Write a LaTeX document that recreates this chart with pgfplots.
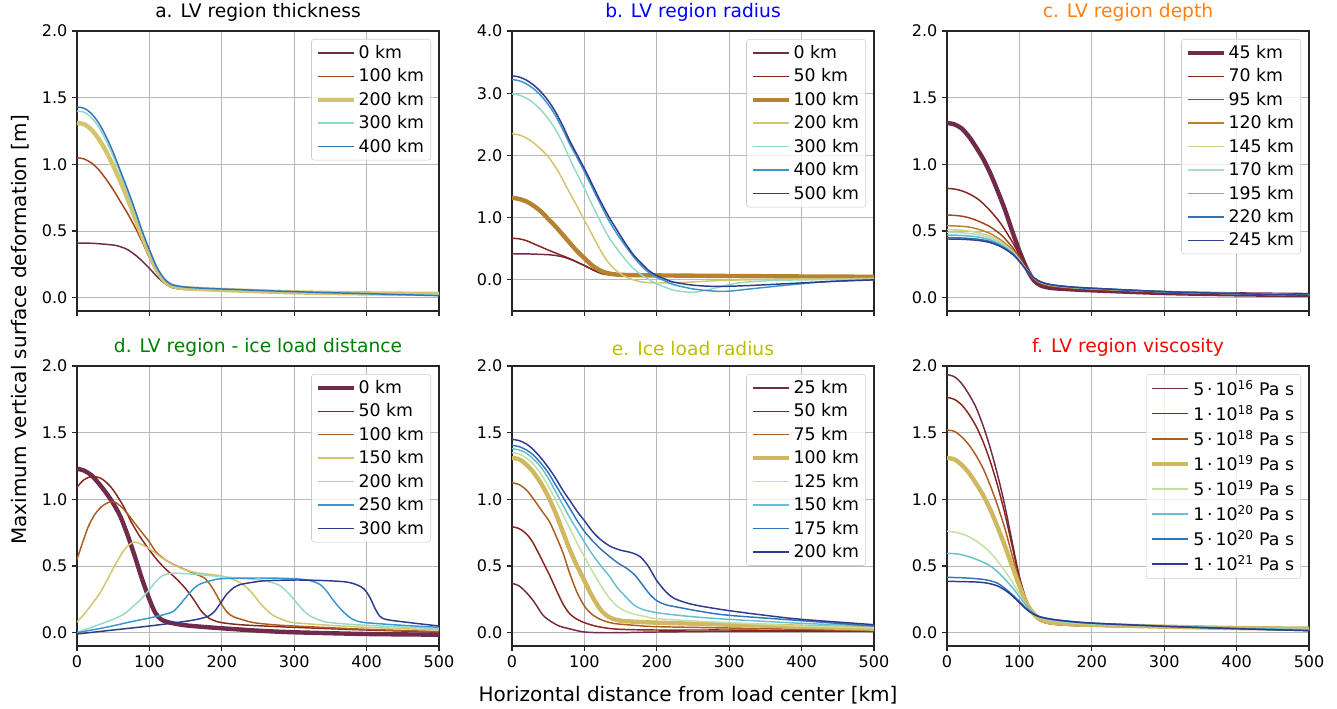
\documentclass[border=0pt]{standalone}
\usepackage{fontspec}
\setmainfont{DejaVu Sans}
\usepackage{pgfplots}
\pgfplotsset{compat=1.18}

% romaO-like line colours
\definecolor{cA}{RGB}{112,42,74}
\definecolor{cB}{RGB}{136,35,30}
\definecolor{cC}{RGB}{163,68,28}
\definecolor{cCb}{RGB}{172,92,30}
\definecolor{cD}{RGB}{182,130,48}
\definecolor{cE}{RGB}{212,196,110}
\definecolor{cEt}{RGB}{208,184,96}
\definecolor{cEl}{RGB}{214,206,134}
\definecolor{cF}{RGB}{194,224,164}
\definecolor{cG}{RGB}{150,218,198}
\definecolor{cGc}{RGB}{170,222,196}
\definecolor{cH}{RGB}{100,192,210}
\definecolor{cI}{RGB}{60,150,205}
\definecolor{cJ}{RGB}{50,115,185}
\definecolor{cK}{RGB}{46,58,140}
\definecolor{tC}{RGB}{255,127,14}
\definecolor{tE}{RGB}{190,190,0}
\definecolor{tD}{RGB}{0,128,0}

\pgfplotsset{
  panel/.style={
    scale only axis, width=271.5pt, height=210pt,
    xmin=0, xmax=500, xtick={0,100,...,500},
    grid=major, grid style={black!28, line width=0.6pt},
    axis line style={black!85, line width=0.8pt},
    tick style={black!85, line width=0.8pt},
    tick align=outside, tick pos=left, major tick length=3.75pt,
    ticklabel style={font=\fontsize{12}{14}\selectfont},
    /pgf/number format/assume math mode=true,
    yticklabel style={/pgf/number format/fixed, /pgf/number format/fixed zerofill, /pgf/number format/precision=1},
    title style={font=\fontsize{14}{17}\selectfont, yshift=-2pt},
    legend cell align=left,
    legend style={at={(1,1)}, anchor=north east, xshift=-6pt, yshift=-6pt,
      draw=black!20, fill=white, fill opacity=0.8, text opacity=1, draw opacity=1,
      rounded corners=2pt, font=\fontsize{13}{15}\selectfont,
      inner xsep=3pt, inner ysep=2.5pt, row sep=2.2pt,
      /tikz/every even column/.append style={column sep=6pt}},
    legend image code/.code={\draw[##1] (0pt,0pt) -- (27pt,0pt);},
    every axis plot/.append style={smooth, no markers},
  },
  tl/.style={line width=1.1pt},
  thick line/.style={line width=3.3pt},
}

\begin{document}
\begin{tikzpicture}
\path[use as bounding box] (0,0) rectangle (1002.75pt,531pt);

% ---------- a ----------
\begin{axis}[panel, at={(57.75pt,297.75pt)}, anchor=south west,
  ymin=-0.1, ymax=2.0, ytick={0,0.5,...,2.0}, xticklabels={},
  title={a. LV region thickness}]
\addplot[cA, tl] coordinates {(0,0.41)(20,0.408)(40,0.40)(55,0.39)(70,0.36)(85,0.3)(100,0.22)(112,0.15)(125,0.095)(140,0.072)(160,0.063)(200,0.055)(250,0.047)(300,0.04)(400,0.03)(500,0.025)};
\addlegendentry{0 km}
\addplot[cC, tl] coordinates {(0,1.05)(10,1.04)(20,1.01)(30,0.96)(40,0.89)(50,0.81)(60,0.72)(70,0.63)(80,0.53)(90,0.42)(100,0.3)(110,0.19)(120,0.115)(130,0.078)(145,0.063)(170,0.058)(200,0.055)(300,0.04)(400,0.03)(500,0.025)};
\addlegendentry{100 km}
\addplot[cE, thick line] coordinates {(0,1.31)(10,1.3)(20,1.26)(30,1.19)(40,1.1)(50,0.99)(60,0.87)(70,0.74)(80,0.6)(90,0.46)(100,0.33)(110,0.21)(120,0.13)(130,0.092)(145,0.074)(170,0.065)(200,0.058)(300,0.04)(400,0.032)(500,0.028)};
\addlegendentry{200 km}
\addplot[cG!90!cH, tl] coordinates {(0,1.40)(10,1.39)(20,1.35)(30,1.28)(40,1.18)(50,1.06)(60,0.93)(70,0.79)(80,0.64)(90,0.49)(100,0.35)(110,0.22)(120,0.14)(130,0.098)(145,0.08)(170,0.07)(200,0.063)(300,0.045)(400,0.03)(500,0.02)};
\addlegendentry{300 km}
\addplot[cJ, tl] coordinates {(0,1.43)(10,1.42)(20,1.38)(30,1.31)(40,1.21)(50,1.09)(60,0.95)(70,0.81)(80,0.66)(90,0.5)(100,0.36)(110,0.23)(120,0.145)(130,0.1)(145,0.082)(170,0.072)(200,0.065)(300,0.045)(400,0.03)(500,0.015)};
\addlegendentry{400 km}
\end{axis}

% ---------- b ----------
\begin{axis}[panel, at={(384pt,297.75pt)}, anchor=south west,
  ymin=-0.5, ymax=4.0, ytick={0,1,2,3,4}, xticklabels={},
  title={b. LV region radius}, title style={text=blue}]
\addplot[cA, tl] coordinates {(0,0.42)(20,0.418)(40,0.41)(55,0.40)(70,0.37)(85,0.31)(100,0.23)(112,0.16)(125,0.1)(140,0.078)(160,0.07)(200,0.065)(300,0.058)(400,0.052)(500,0.048)};
\addlegendentry{0 km}
\addplot[cB, tl] coordinates {(0,0.67)(10,0.66)(20,0.63)(30,0.58)(40,0.53)(52,0.47)(65,0.41)(80,0.34)(100,0.23)(112,0.16)(125,0.1)(140,0.078)(160,0.07)(200,0.065)(300,0.058)(400,0.052)(500,0.048)};
\addlegendentry{50 km}
\addplot[cD, thick line] coordinates {(0,1.32)(10,1.3)(20,1.26)(30,1.19)(40,1.1)(50,0.98)(60,0.86)(75,0.66)(90,0.46)(100,0.35)(110,0.24)(122,0.15)(135,0.1)(150,0.082)(175,0.075)(200,0.072)(300,0.063)(400,0.055)(500,0.05)};
\addlegendentry{100 km}
\addplot[cE, tl] coordinates {(0,2.35)(10,2.33)(20,2.28)(30,2.2)(40,2.1)(52,1.95)(65,1.72)(75,1.5)(90,1.18)(100,0.96)(111,0.72)(122,0.48)(133,0.28)(145,0.14)(157,0.05)(168,0.0)(181,-0.035)(200,-0.05)(237,-0.04)(270,-0.02)(300,-0.005)(400,0.015)(500,0.025)};
\addlegendentry{200 km}
\addplot[cG, tl] coordinates {(0,2.99)(10,2.97)(20,2.92)(30,2.84)(40,2.73)(50,2.59)(60,2.42)(70,2.2)(80,1.94)(90,1.7)(100,1.47)(111,1.2)(122,0.94)(133,0.7)(145,0.5)(157,0.32)(168,0.18)(180,0.07)(190,0.0)(200,-0.065)(212,-0.12)(225,-0.17)(250,-0.2)(270,-0.16)(285,-0.12)(306,-0.06)(330,-0.03)(360,-0.01)(400,0.0)(500,0.01)};
\addlegendentry{300 km}
\addplot[cI, tl] coordinates {(0,3.22)(10,3.2)(20,3.15)(30,3.07)(40,2.96)(50,2.82)(60,2.64)(70,2.42)(80,2.18)(92,1.92)(100,1.74)(111,1.48)(122,1.22)(133,0.97)(145,0.74)(157,0.54)(168,0.37)(180,0.21)(190,0.11)(200,0.04)(212,-0.02)(223,-0.075)(250,-0.145)(278,-0.18)(301,-0.18)(329,-0.145)(375,-0.09)(421,-0.04)(460,-0.015)(500,0.0)};
\addlegendentry{400 km}
\addplot[cK, tl] coordinates {(0,3.28)(10,3.26)(20,3.21)(30,3.13)(40,3.02)(50,2.88)(60,2.7)(70,2.48)(80,2.23)(94,1.92)(100,1.79)(111,1.53)(122,1.27)(133,1.03)(145,0.8)(157,0.58)(168,0.4)(180,0.25)(190,0.14)(200,0.07)(212,0.01)(223,-0.035)(250,-0.085)(283,-0.105)(329,-0.09)(398,-0.05)(450,-0.02)(500,0.0)};
\addlegendentry{500 km}
\end{axis}

% ---------- c ----------
\begin{axis}[panel, at={(710.25pt,297.75pt)}, anchor=south west,
  ymin=-0.1, ymax=2.0, ytick={0,0.5,...,2.0}, xticklabels={},
  title={c. LV region depth}, title style={text=tC}]
\addplot[cA, thick line] coordinates {(0,1.31)(10,1.3)(20,1.27)(30,1.21)(40,1.13)(50,1.04)(60,0.93)(70,0.8)(80,0.66)(90,0.5)(100,0.35)(110,0.22)(120,0.13)(130,0.09)(145,0.072)(170,0.063)(200,0.055)(300,0.035)(400,0.025)(500,0.02)};
\addlegendentry{45 km}
\addplot[cB, tl] coordinates {(0,0.82)(15,0.81)(30,0.78)(45,0.73)(60,0.65)(75,0.55)(90,0.42)(100,0.32)(110,0.22)(120,0.14)(130,0.1)(145,0.08)(170,0.068)(200,0.06)(300,0.04)(400,0.028)(500,0.022)};
\addlegendentry{70 km}
\addplot[cC, tl] coordinates {(0,0.62)(15,0.615)(30,0.6)(45,0.57)(60,0.53)(75,0.47)(90,0.38)(100,0.3)(110,0.21)(120,0.14)(130,0.105)(145,0.085)(170,0.072)(200,0.063)(300,0.042)(400,0.028)(500,0.02)};
\addlegendentry{95 km}
\addplot[cD, tl] coordinates {(0,0.54)(15,0.537)(30,0.53)(45,0.51)(60,0.48)(75,0.43)(90,0.36)(100,0.29)(110,0.21)(120,0.145)(130,0.11)(145,0.09)(170,0.076)(200,0.066)(300,0.044)(400,0.03)(500,0.02)};
\addlegendentry{120 km}
\addplot[cEl, tl] coordinates {(0,0.51)(15,0.508)(30,0.50)(45,0.485)(60,0.46)(75,0.415)(90,0.35)(100,0.285)(110,0.21)(120,0.148)(130,0.113)(145,0.092)(170,0.078)(200,0.068)(300,0.045)(400,0.03)(500,0.02)};
\addlegendentry{145 km}
\addplot[cGc, tl] coordinates {(0,0.49)(15,0.488)(30,0.482)(45,0.47)(60,0.445)(75,0.405)(90,0.345)(100,0.28)(110,0.21)(120,0.15)(130,0.115)(145,0.094)(170,0.079)(200,0.069)(300,0.045)(400,0.03)(500,0.019)};
\addlegendentry{170 km}
\addplot[cH!80!cI, tl] coordinates {(0,0.47)(15,0.468)(30,0.463)(45,0.453)(60,0.432)(75,0.395)(90,0.338)(100,0.277)(110,0.208)(120,0.15)(130,0.116)(145,0.095)(170,0.08)(200,0.07)(300,0.045)(400,0.03)(500,0.018)};
\addlegendentry{195 km}
\addplot[cJ, tl] coordinates {(0,0.45)(15,0.449)(30,0.445)(45,0.437)(60,0.42)(75,0.386)(90,0.332)(100,0.274)(110,0.206)(120,0.15)(130,0.117)(145,0.096)(170,0.081)(200,0.071)(300,0.045)(400,0.03)(500,0.018)};
\addlegendentry{220 km}
\addplot[cK!85!cJ, tl] coordinates {(0,0.44)(15,0.439)(30,0.435)(45,0.428)(60,0.412)(75,0.38)(90,0.328)(100,0.272)(110,0.205)(120,0.15)(130,0.117)(145,0.096)(170,0.081)(200,0.071)(300,0.045)(400,0.03)(500,0.018)};
\addlegendentry{245 km}
\end{axis}

% ---------- d ----------
\begin{axis}[panel, at={(57.75pt,46.5pt)}, anchor=south west,
  ymin=-0.1, ymax=2.0, ytick={0,0.5,...,2.0},
  title={d. LV region - ice load distance}, title style={text=tD}]
\addplot[cA, thick line] coordinates {(0,1.23)(10,1.215)(20,1.18)(30,1.12)(40,1.05)(50,0.97)(60,0.87)(70,0.73)(80,0.57)(90,0.4)(100,0.25)(108,0.15)(116,0.1)(125,0.08)(133,0.07)(150,0.055)(175,0.043)(200,0.033)(250,0.015)(300,0.003)(400,-0.01)(500,-0.015)};
\addlegendentry{0 km}
\addplot[cB, tl] coordinates {(0,1.09)(8,1.14)(16,1.165)(24,1.17)(32,1.16)(40,1.13)(50,1.07)(64,0.95)(75,0.83)(87,0.72)(100,0.62)(110,0.55)(120,0.49)(130,0.44)(138,0.4)(150,0.33)(161,0.25)(172,0.16)(182,0.11)(190,0.09)(200,0.075)(230,0.058)(300,0.04)(400,0.02)(500,0.005)};
\addlegendentry{50 km}
\addplot[cCb, tl] coordinates {(0,0.55)(8,0.68)(16,0.8)(25,0.89)(35,0.95)(45,0.98)(52,0.98)(60,0.95)(70,0.89)(87,0.77)(100,0.68)(110,0.6)(124,0.54)(138,0.5)(155,0.46)(168,0.43)(176,0.41)(184,0.36)(192,0.29)(200,0.21)(208,0.15)(216,0.12)(230,0.095)(244,0.075)(270,0.06)(300,0.05)(400,0.025)(500,0.008)};
\addlegendentry{100 km}
\addplot[cE, tl] coordinates {(0,0.08)(10,0.14)(20,0.21)(32,0.3)(45,0.43)(55,0.53)(65,0.62)(72,0.66)(80,0.68)(90,0.66)(101,0.625)(115,0.57)(133,0.51)(150,0.47)(165,0.45)(200,0.425)(220,0.39)(232,0.35)(243,0.29)(253,0.22)(262,0.17)(271,0.13)(285,0.095)(300,0.075)(350,0.055)(400,0.04)(500,0.02)};
\addlegendentry{150 km}
\addplot[cG, tl] coordinates {(0,0.0)(25,0.05)(50,0.1)(65,0.14)(78,0.2)(90,0.26)(101,0.33)(110,0.39)(119,0.43)(130,0.445)(142,0.445)(170,0.435)(200,0.42)(253,0.395)(270,0.375)(281,0.35)(293,0.29)(304,0.22)(313,0.165)(322,0.125)(335,0.095)(350,0.075)(400,0.055)(500,0.03)};
\addlegendentry{200 km}
\addplot[cI, tl] coordinates {(0,0.0)(40,0.04)(73,0.08)(100,0.11)(120,0.135)(133,0.16)(142,0.21)(152,0.275)(161,0.33)(170,0.365)(185,0.39)(200,0.405)(250,0.41)(300,0.405)(322,0.39)(336,0.36)(345,0.31)(353,0.25)(362,0.19)(371,0.14)(381,0.1)(392,0.08)(410,0.07)(450,0.055)(500,0.04)};
\addlegendentry{250 km}
\addplot[cK, tl] coordinates {(0,-0.01)(50,0.02)(100,0.05)(150,0.085)(170,0.105)(182,0.125)(190,0.16)(198,0.22)(207,0.29)(216,0.335)(225,0.36)(245,0.38)(262,0.39)(304,0.395)(345,0.39)(372,0.38)(386,0.36)(396,0.33)(404,0.27)(411,0.19)(418,0.125)(428,0.098)(460,0.075)(500,0.05)};
\addlegendentry{300 km}
\end{axis}

% ---------- e ----------
\begin{axis}[panel, at={(384pt,46.5pt)}, anchor=south west,
  ymin=-0.1, ymax=2.0, ytick={0,0.5,...,2.0},
  title={e. Ice load radius}, title style={text=tE}]
\addplot[cA, tl] coordinates {(0,0.37)(10,0.35)(20,0.3)(30,0.235)(43,0.13)(55,0.08)(65,0.05)(75,0.035)(90,0.015)(100,0.005)(120,0.0)(150,0.0)(200,0.005)(300,0.01)(400,0.01)(500,0.01)};
\addlegendentry{25 km}
\addplot[cB, tl] coordinates {(0,0.795)(10,0.78)(20,0.74)(29,0.675)(40,0.56)(52,0.43)(62,0.31)(71,0.21)(80,0.14)(90,0.1)(100,0.075)(115,0.05)(130,0.035)(150,0.025)(200,0.02)(300,0.02)(400,0.015)(500,0.01)};
\addlegendentry{50 km}
\addplot[cCb, tl] coordinates {(0,1.125)(10,1.11)(20,1.07)(30,1.0)(43,0.9)(52,0.83)(62,0.71)(71,0.59)(80,0.44)(90,0.3)(100,0.2)(110,0.14)(122,0.1)(140,0.07)(170,0.055)(200,0.045)(300,0.035)(400,0.025)(500,0.015)};
\addlegendentry{75 km}
\addplot[cEt, thick line] coordinates {(0,1.31)(10,1.3)(20,1.26)(30,1.2)(40,1.12)(50,1.02)(60,0.9)(70,0.76)(80,0.62)(90,0.5)(100,0.39)(110,0.28)(122,0.175)(133,0.12)(145,0.095)(160,0.085)(200,0.075)(300,0.06)(400,0.045)(500,0.03)};
\addlegendentry{100 km}
\addplot[cF, tl] coordinates {(0,1.35)(10,1.34)(20,1.31)(30,1.26)(40,1.19)(50,1.1)(60,1.0)(70,0.89)(80,0.78)(90,0.67)(100,0.57)(110,0.47)(122,0.36)(133,0.27)(145,0.2)(157,0.16)(168,0.14)(185,0.12)(200,0.105)(260,0.085)(300,0.075)(400,0.05)(500,0.035)};
\addlegendentry{125 km}
\addplot[cH, tl] coordinates {(0,1.38)(10,1.37)(20,1.345)(30,1.3)(40,1.24)(50,1.16)(60,1.06)(70,0.96)(80,0.86)(90,0.77)(100,0.68)(112,0.58)(123,0.5)(135,0.42)(145,0.34)(157,0.27)(168,0.21)(180,0.175)(200,0.15)(230,0.13)(260,0.115)(300,0.1)(400,0.07)(500,0.05)};
\addlegendentry{150 km}
\addplot[cJ, tl] coordinates {(0,1.405)(10,1.395)(20,1.37)(30,1.33)(40,1.27)(50,1.2)(60,1.11)(70,1.02)(80,0.93)(90,0.84)(100,0.76)(111,0.69)(122,0.63)(135,0.57)(147,0.52)(159,0.48)(170,0.43)(180,0.36)(190,0.29)(200,0.24)(212,0.21)(230,0.19)(260,0.16)(300,0.13)(400,0.09)(500,0.05)};
\addlegendentry{175 km}
\addplot[cK, tl] coordinates {(0,1.45)(10,1.44)(20,1.415)(30,1.37)(40,1.31)(50,1.24)(60,1.16)(70,1.07)(80,0.99)(90,0.91)(100,0.84)(111,0.76)(122,0.7)(135,0.65)(149,0.62)(165,0.6)(177,0.57)(188,0.5)(200,0.39)(212,0.31)(223,0.26)(240,0.225)(260,0.2)(300,0.165)(350,0.13)(400,0.1)(500,0.06)};
\addlegendentry{200 km}
\end{axis}

% ---------- f ----------
\begin{axis}[panel, at={(710.25pt,46.5pt)}, anchor=south west,
  ymin=-0.1, ymax=2.0, ytick={0,0.5,...,2.0},
  title={f. LV region viscosity}, title style={text=red}]
\addplot[cA, tl] coordinates {(0,1.935)(10,1.92)(20,1.87)(30,1.79)(40,1.69)(50,1.55)(60,1.38)(70,1.18)(80,0.95)(90,0.68)(100,0.42)(110,0.24)(120,0.13)(130,0.085)(145,0.065)(170,0.055)(200,0.05)(300,0.04)(400,0.03)(500,0.02)};
\addlegendentry{5\,·\,10\textsuperscript{16} Pa s}
\addplot[cB, tl] coordinates {(0,1.765)(10,1.75)(20,1.71)(30,1.64)(40,1.55)(50,1.43)(60,1.28)(70,1.1)(80,0.89)(90,0.65)(100,0.41)(110,0.24)(120,0.13)(130,0.085)(145,0.065)(170,0.055)(200,0.05)(300,0.04)(400,0.03)(500,0.02)};
\addlegendentry{1\,·\,10\textsuperscript{18} Pa s}
\addplot[cCb, tl] coordinates {(0,1.52)(10,1.51)(20,1.47)(30,1.41)(40,1.33)(50,1.23)(60,1.1)(70,0.95)(80,0.78)(90,0.58)(100,0.39)(110,0.24)(120,0.135)(130,0.09)(145,0.068)(170,0.058)(200,0.052)(300,0.04)(400,0.03)(500,0.022)};
\addlegendentry{5\,·\,10\textsuperscript{18} Pa s}
\addplot[cEt, thick line] coordinates {(0,1.31)(10,1.3)(20,1.26)(30,1.2)(40,1.12)(50,1.03)(60,0.92)(70,0.79)(80,0.65)(90,0.5)(100,0.35)(110,0.22)(120,0.14)(130,0.095)(145,0.075)(170,0.065)(200,0.058)(300,0.045)(400,0.035)(500,0.03)};
\addlegendentry{1\,·\,10\textsuperscript{19} Pa s}
\addplot[cF, tl] coordinates {(0,0.76)(15,0.75)(30,0.72)(45,0.67)(60,0.6)(75,0.5)(90,0.38)(100,0.29)(110,0.2)(120,0.14)(130,0.11)(145,0.09)(170,0.075)(200,0.065)(300,0.05)(400,0.035)(500,0.025)};
\addlegendentry{5\,·\,10\textsuperscript{19} Pa s}
\addplot[cH, tl] coordinates {(0,0.595)(15,0.59)(30,0.57)(45,0.54)(60,0.5)(75,0.43)(90,0.34)(100,0.27)(110,0.2)(120,0.145)(130,0.115)(145,0.095)(170,0.08)(200,0.068)(300,0.05)(400,0.035)(500,0.022)};
\addlegendentry{1\,·\,10\textsuperscript{20} Pa s}
\addplot[cJ, tl] coordinates {(0,0.415)(20,0.412)(40,0.405)(55,0.395)(70,0.37)(85,0.31)(100,0.235)(112,0.17)(125,0.125)(140,0.105)(160,0.09)(200,0.072)(300,0.048)(400,0.03)(500,0.015)};
\addlegendentry{5\,·\,10\textsuperscript{20} Pa s}
\addplot[cK, tl] coordinates {(0,0.385)(20,0.383)(40,0.38)(55,0.372)(70,0.35)(85,0.3)(100,0.225)(112,0.165)(125,0.125)(140,0.105)(160,0.09)(200,0.072)(300,0.048)(400,0.03)(500,0.015)};
\addlegendentry{1\,·\,10\textsuperscript{21} Pa s}
\end{axis}

\node[rotate=90, font=\fontsize{15}{18}\selectfont] at (15pt,283.5pt) {Maximum vertical surface deformation [m]};
\node[font=\fontsize{15}{18}\selectfont] at (516pt,9.75pt) {Horizontal distance from load center [km]};
\end{tikzpicture}
\end{document}
